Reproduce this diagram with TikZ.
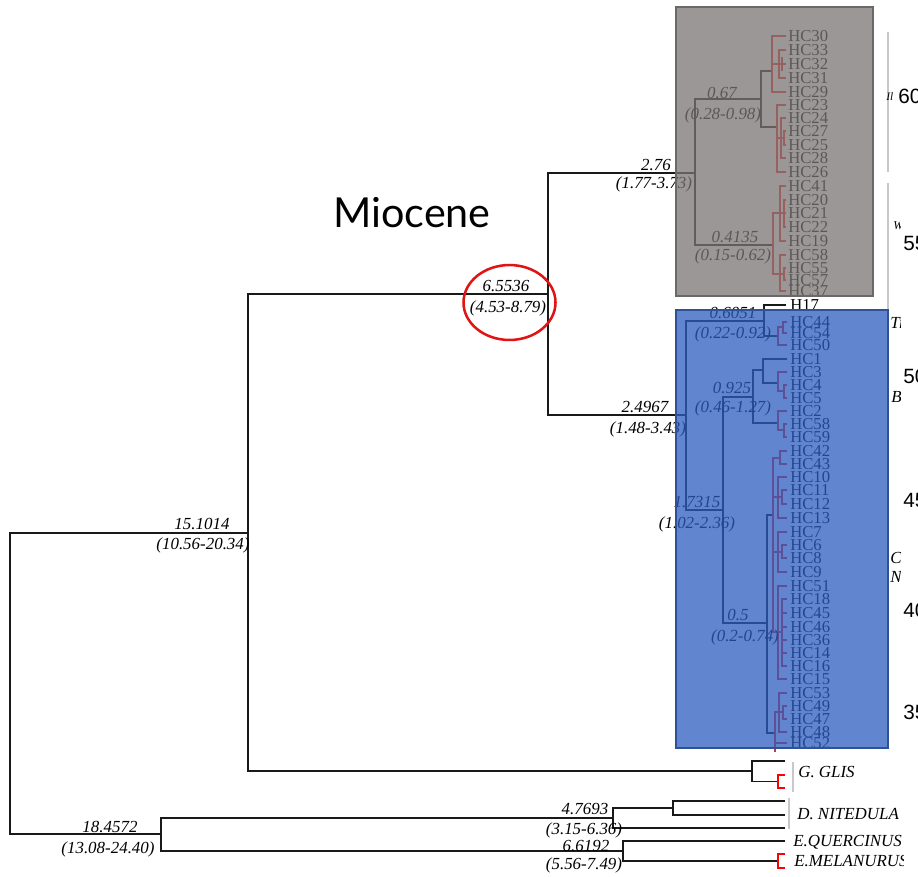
\documentclass[tikz,border=0pt]{standalone}
\usepackage{fontspec}
\setmainfont{Liberation Serif}
\newfontfamily\sansf{Liberation Sans}
\newfontfamily\miof{Lato}
\definecolor{greyfill}{RGB}{123,117,117}
\definecolor{greyedge}{RGB}{108,104,104}
\definecolor{bluefill}{RGB}{45,94,192}
\definecolor{blueedge}{RGB}{45,83,150}
\definecolor{barcol}{RGB}{200,200,200}
\definecolor{treered}{RGB}{235,40,40}
\definecolor{ellred}{RGB}{225,20,20}
\tikzset{
  br/.style={line width=1.1pt, black!90},
  rc/.style={line width=1pt, treered},
  tiplab/.style={anchor=west, inner sep=0pt, font=\fontsize{12.5}{13}\selectfont},
  numlab/.style={inner sep=0pt, font=\fontsize{12.7}{13}\selectfont\itshape},
  sidelab/.style={anchor=west, inner sep=0pt, font=\fontsize{12.7}{13}\selectfont\itshape},
  agelab/.style={anchor=west, inner sep=0pt, font=\sansf\fontsize{15.5}{16}\selectfont},
}
\begin{document}
\begin{tikzpicture}[x=0.75pt,y=-0.75pt]
\useasboundingbox (0,0) rectangle (918,876);
\fill[white] (0,0) rectangle (918,876);
\begin{scope}
\clip (0,0) rectangle (918,876);

% ---------- tip coordinates and labels (grey clade) ----------
\foreach \n/\y [count=\i] in {HC30/36,HC33/50,HC32/64,HC31/78,HC29/92,HC23/105,HC24/118,HC27/131,HC25/145,HC28/158,HC26/172,HC41/186,HC20/200,HC21/213,HC22/227,HC19/241,HC58/255,HC55/268,HC57/280,HC37/291}{
  \coordinate (g\i) at (786,\y);
  \node[tiplab] (gl\i) at (788,\y) {\n};
}
% ---------- tip coordinates and labels (blue clade) ----------
\foreach \n/\y [count=\i] in {HC44/322,HC54/333,HC50/345,HC1/359,HC3/372,HC4/385,HC5/398,HC2/411,HC58/424,HC59/437,HC42/451,HC43/464,HC10/477,HC11/490,HC12/504,HC13/518,HC7/532,HC6/545,HC8/558,HC9/572,HC51/586,HC18/599,HC45/613,HC46/627,HC36/640,HC14/653,HC16/666,HC15/679,HC53/693,HC49/706,HC47/719,HC48/732,HC52/743}{
  \coordinate (b\i) at (787,\y);
  \node[tiplab] (bl\i) at (790,\y) {\n};
}
\coordinate (b0) at (786,305);
\node[tiplab] (bl0) at (790,305) {H17};

% ---------- backbone ----------
\coordinate (R) at (10,683.5);
\coordinate (N15) at (248,533);
\coordinate (N18) at (161,834);
\draw[br] (N15) -| (R) |- (N18);
\coordinate (N65) at (548,294);
\coordinate (Ngl) at (752,771);
\draw[br] (N65) -| (N15) |- (Ngl);
\coordinate (N276) at (695,173);
\coordinate (N249) at (686,415);
\draw[br] (N276) -| (N65) |- (N249);
\coordinate (N067) at (761,99);
\coordinate (N041) at (773,245);
\draw[br] (N067) -| (N276) |- (N041);
\coordinate (cA) at (772,71);
\coordinate (cB) at (777,127);
\draw[br] (cA) -| (N067) |- (cB);
\coordinate (N0605) at (764,321);
\coordinate (N173) at (723,510);
\draw[br] (N0605) -| (N249) |- (N173);
\coordinate (cE) at (778,336);
\draw[br] (b0) -| (N0605) |- (cE);
\coordinate (N0925) at (753,397);
\coordinate (N05) at (767,623);
\draw[br] (N0925) -| (N173) |- (N05);
\coordinate (NHC1) at (763,370);
\coordinate (cG) at (778,423);
\draw[br] (NHC1) -| (N0925) |- (cG);
\coordinate (cF) at (778,383);
\draw[br] (b4) -| (NHC1) |- (cF);
\coordinate (cH) at (773,515);
\coordinate (cI) at (775,733);
\draw[br] (cH) -| (N05) |- (cI);

% ---------- red sub-clades (grey box) ----------
\draw[rc] (g1) -| (772,64) |- (g5);
\draw[rc] (g2) -| (779,64) |- (g4);
\draw[rc] (772,64) -- (g3);
\draw[rc] (782,57) -- (782,71);
\draw[rc] (g6) -| (777,138) |- (g11);
\draw[rc] (g7) -| (781,138) |- (g10);
\draw[rc] (777,138) -- (781,138);
\draw[rc] (g8) -| (784,138) |- (g9);
\draw[rc] (781,138) -- (784,138);
\draw[rc] (780,213) -| (N041) |- (780,274);
\draw[rc] (g12) -| (780,213) |- (g16);
\draw[rc] (g13) -| (784,213) |- (g15);
\draw[rc] (780,213) -- (g14);
\draw[rc] (g17) -| (780,274) |- (g20);
\draw[rc] (g18) -| (784,274) |- (g19);
\draw[rc] (780,274) -- (784,274);

% ---------- red sub-clades (blue box) ----------
\draw[rc] (783,327) -| (cE) |- (b3);
\draw[rc] (b1) -| (783,327) |- (b2);
\draw[rc] (b5) -| (cF) |- (784,391);
\draw[rc] (b6) -| (784,391) |- (b7);
\draw[rc] (b8) -| (cG) |- (784,430);
\draw[rc] (b9) -| (784,430) |- (b10);
\draw[rc] (780,458) -| (cH) |- (778,632);
\draw[rc] (773,497) -- (778,497);
\draw[rc] (773,552) -- (778,552);
\draw[rc] (b11) -| (780,458) |- (b12);
\draw[rc] (b13) -| (778,497) |- (b16);
\draw[rc] (b14) -| (782,497) |- (b15);
\draw[rc] (778,497) -- (782,497);
\draw[rc] (b17) -| (778,552) |- (b20);
\draw[rc] (b18) -| (782,552) |- (b19);
\draw[rc] (778,552) -- (782,552);
\draw[rc] (b21) -| (778,632) |- (b28);
\draw[rc] (b22) -| (782,632) |- (b27);
\draw[rc] (778,632) -- (782,632);
\foreach \k in {23,24,25,26}{\draw[rc] (b\k) -- (b\k -| 782,0);}
\draw[rc] (779,712) -| (cI) |- (b33);
\draw[rc] (cI) -- (775,752);
\draw[rc] (b29) -| (779,712) |- (b32);
\draw[rc] (b30) -| (783,712) |- (b31);
\draw[rc] (779,712) -- (783,712);

% ---------- outgroups ----------
\coordinate (tgl) at (785,761);
\coordinate (rgl) at (778,781.5);
\draw[br] (tgl) -| (Ngl) |- (rgl);
\draw[line width=1.3pt, red] (785,775) -| (rgl) |- (785,788);
\coordinate (N47) at (613,818);
\coordinate (N66) at (623,851);
\draw[br] (N47) -| (N18) |- (N66);
\coordinate (N47b) at (673,808);
\coordinate (tdn) at (785,828);
\draw[br] (N47b) -| (N47) |- (tdn);
\coordinate (tdn1) at (785,801);
\coordinate (tdn2) at (785,815);
\draw[br] (tdn1) -| (N47b) |- (tdn2);
\coordinate (teq) at (785,841);
\coordinate (rem) at (778,861);
\draw[br] (teq) -| (N66) |- (rem);
\draw[line width=1.3pt, red] (785,854) -| (rem) |- (785,868);
\draw[barcol, line width=0.9pt] (793,762) -- (793,792);
\draw[barcol, line width=0.9pt] (789,798) -- (789,829);
\node[sidelab] (lgl) at (798,772) {G. GLIS};
\node[sidelab] (ldn) at (797,814) {D. NITEDULA};
\node[sidelab] (leq) at (793,842) {E.QUERCINUS};
\begin{scope}
\clip (780,850) rectangle (903,876);
\node[sidelab] (lem) at (794,861) {E.MELANURUS};
\end{scope}

% ---------- node age labels ----------
\node[numlab] (a1) at (202,524) {15.1014};
\node[numlab] (a1i) at (203,545) {(10.56-20.34)};
\node[numlab] (a2) at (506,286) {6.5536};
\node[numlab] (a2i) at (508,308) {(4.53-8.79)};
\node[numlab] (a3) at (656,165) {2.76};
\node[numlab] (a3i) at (654,184) {(1.77-3.73)};
\node[numlab] (a4) at (645,407) {2.4967};
\node[numlab] (a4i) at (648,429) {(1.48-3.43)};
\node[numlab] (a5) at (722,93) {0.67};
\node[numlab] (a5i) at (723,115) {(0.28-0.98)};
\node[numlab] (a6) at (735,237) {0.4135};
\node[numlab] (a6i) at (733,256) {(0.15-0.62)};
\node[numlab] (a7) at (733,313) {0.6051};
\node[numlab] (a7i) at (733,334) {(0.22-0.92)};
\node[numlab] (a8) at (732,388) {0.925};
\node[numlab] (a8i) at (733,408) {(0.46-1.27)};
\node[numlab] (a9) at (697,502) {1.7315};
\node[numlab] (a9i) at (697,524) {(1.02-2.36)};
\node[numlab] (a10) at (738,615) {0.5};
\node[numlab] (a10i) at (745,637) {(0.2-0.74)};
\node[numlab] (a11) at (110,827) {18.4572};
\node[numlab] (a11i) at (108,849) {(13.08-24.40)};
\node[numlab] (a12) at (585,809) {4.7693};
\node[numlab] (a12i) at (584,830) {(3.15-6.36)};
\node[numlab] (a13) at (586,846) {6.6192};
\node[numlab] (a13i) at (584,865) {(5.56-7.49)};

% ---------- highlight boxes (translucent overlay) ----------
\fill[greyfill, fill opacity=0.75] (676,7) rectangle (873,296);
\draw[greyedge, line width=1.6pt] (676,7) rectangle (873,296);
\fill[bluefill, fill opacity=0.75] (676,310) rectangle (888,748);
\draw[blueedge, line width=1.8pt] (676,310) rectangle (888,748);

% ---------- right-hand bars and labels ----------
\draw[barcol, line width=1pt] (888,32) -- (888,172);
\draw[barcol, line width=1pt] (888,183) -- (888,309);
\begin{scope}
\clip (880,0) rectangle (900.5,876);
\node[sidelab, font=\fontsize{8.5}{9}\selectfont\itshape] (s1) at (886,97) {Il};
\node[sidelab, font=\fontsize{9}{10}\selectfont\itshape] (s2) at (893,226) {W};
\node[sidelab] (s3) at (890,323) {Ti};
\node[sidelab] (s4) at (891,397) {Ba};
\node[sidelab] (s5) at (890,558) {Co};
\node[sidelab] (s6) at (890,577) {No};
\end{scope}
\node[agelab] (y60) at (898,96) {60};
\node[agelab] (y55) at (903,243) {55};
\node[agelab] (y50) at (903,376) {50};
\node[agelab] (y45) at (903,500) {45};
\node[agelab] (y40) at (903,610) {40};
\node[agelab] (y35) at (903,712) {35};

% ---------- Miocene annotation ----------
\node[inner sep=0pt, font=\miof\fontsize{31}{32}\selectfont] (mio) at (412,213) {Miocene};
\draw[ellred, line width=1.9pt] (509.5,302.5) ellipse [x radius=34.5pt, y radius=28.1pt];
\end{scope}
\end{tikzpicture}
\end{document}
